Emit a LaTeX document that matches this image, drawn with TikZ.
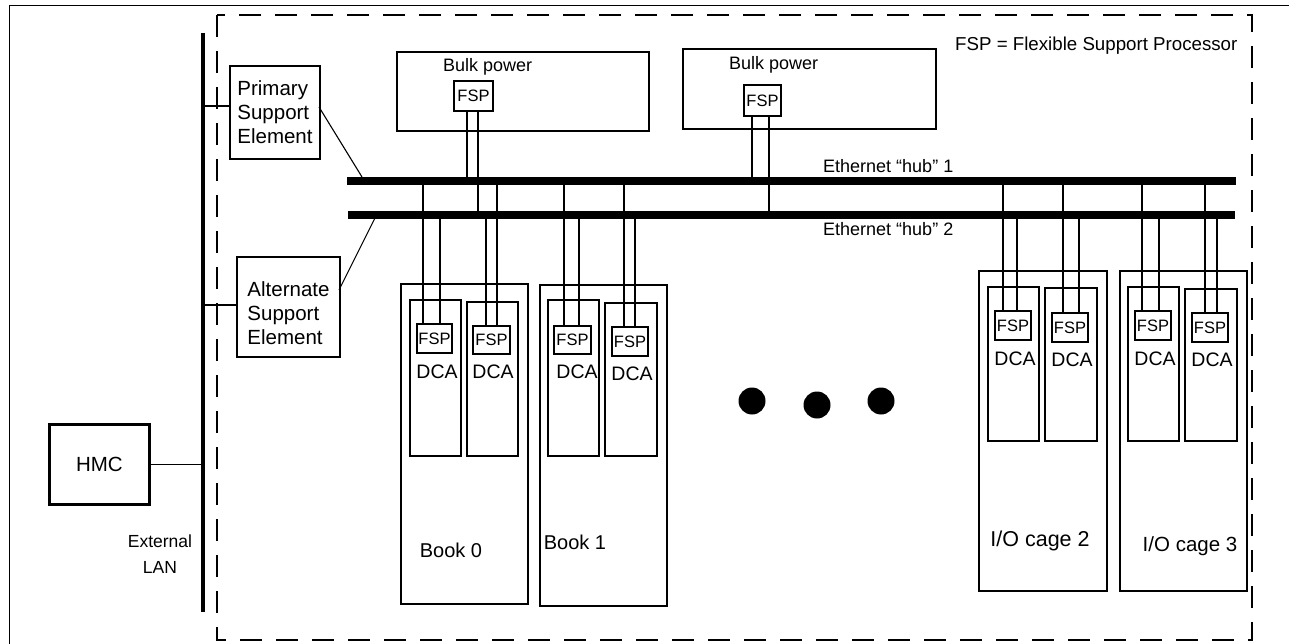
\documentclass[tikz,border=0pt]{standalone}
\usepackage{fontspec}
\setmainfont{Liberation Sans}
\newcommand\wireto[4]{\path ([xshift=#3pt]#1.#2) coordinate (wt); \draw[wire] (wt) -- (wt |- #4);}
\begin{document}
\begin{tikzpicture}[x=1pt,y=-1pt,
  box/.style={draw, line width=2pt, inner sep=0pt, anchor=north west},
  wire/.style={line width=1.8pt},
  hubbar/.style={line width=7.5pt},
  thinline/.style={line width=1.1pt},
  lbl/.style={inner sep=0pt, font=\fontsize{18}{22}\selectfont},
  dcalbl/.style={inner sep=0pt, font=\fontsize{19.5}{22}\selectfont},
  cagelbl/.style={inner sep=0pt, font=\fontsize{20}{22}\selectfont},
  big/.style={inner sep=0pt, align=left, font=\fontsize{20.5}{24}\selectfont},
  fsp/.style={box, minimum width=36pt, minimum height=29pt, font=\fontsize{16.5}{18}\selectfont},
  dotfill/.style={fill=black}]
\useasboundingbox (0,0) rectangle (1289,644);
% outer frame
\draw[line width=1pt] (9,644) -- (9,6) -- (1289,6);
% dashed enclosure
\draw[line width=2pt, dash pattern=on 22pt off 14pt] (217,15) rectangle (1252,640);
% external LAN
\coordinate (lanT) at (203,33);
\coordinate (lanB) at (203,612);
\draw[line width=3.5pt] (lanT) -- (lanB);
\node[lbl, align=center, font=\fontsize{17.5}{26}\selectfont] (lanlbl) at (160,554) {External\\LAN};
% HMC
\node[box, line width=2.7pt, minimum width=100pt, minimum height=80pt, font=\fontsize{20.5}{24}\selectfont] (hmc) at (48,423) {HMC};
\draw[thinline] (hmc.east) -- (hmc.east -| lanT);
% support elements
\node[box, minimum width=90pt, minimum height=93pt] (pse) at (229,65) {};
\node[big] (psetxt) at (pse.center) {Primary\\Support\\Element};
\node[box, minimum width=103pt, minimum height=100pt] (ase) at (236,256) {};
\node[big] (asetxt) at ([yshift=-6pt]ase.center) {Alternate\\Support\\Element};
\coordinate (pseL) at (229,106);
\coordinate (aseL) at (236,305);
\draw[thinline] (pseL -| lanT) -- (pseL);
\draw[thinline] (aseL -| lanT) -- (aseL);
% hubs
\coordinate (h1a) at (347,181);
\coordinate (h1b) at (1236,181);
\coordinate (h2a) at (348,215);
\coordinate (h2b) at (1235,215);
\draw[thinline] (319,107) -- (362,177);
\draw[thinline] (339,290) -- (375,218);
\node[lbl, anchor=west] (hub1lbl) at (823,166) {Ethernet “hub” 1};
\node[lbl, anchor=west] (hub2lbl) at (823,229) {Ethernet “hub” 2};
\node[lbl, anchor=west, font=\fontsize{18.7}{22}\selectfont] (legend) at (955,46) {FSP = Flexible Support Processor};
% bulk power
\node[box, minimum width=252pt, minimum height=79pt] (bp1) at (396,51) {};
\node[box, minimum width=253pt, minimum height=80pt] (bp2) at (682,48) {};
\node[lbl, anchor=west] (bp1lbl) at (443,67) {Bulk power};
\node[lbl, anchor=west] (bp2lbl) at (729,65) {Bulk power};
\node[fsp, minimum width=39pt, minimum height=30pt] (bf1) at (453,80) {FSP};
\node[fsp, minimum width=37pt, minimum height=31pt] (bf2) at (743,84) {FSP};
\wireto{bf1}{south west}{14}{h1a}
\wireto{bf1}{south west}{25}{h2a}
\wireto{bf2}{south west}{9}{h1a}
\wireto{bf2}{south west}{26}{h2a}
% books
\node[box, minimum width=127pt, minimum height=320pt] (book0) at (400,283) {};
\node[box, minimum width=51pt, minimum height=156pt] (d00) at (409,299) {};
\node[box, minimum width=51pt, minimum height=154pt] (d01) at (466,301) {};
\node[fsp, minimum width=35pt] (f00) at (416,323) {FSP};
\node[fsp, minimum width=37pt, minimum height=28pt] (f01) at (472,325) {FSP};
\node[dcalbl] (c00) at (437,372) {DCA};
\node[dcalbl] (c01) at (493,372) {DCA};
\node[cagelbl] (b0lbl) at (451,550) {Book 0};
\node[box, minimum width=127pt, minimum height=321pt] (book1) at (539,284) {};
\node[box, minimum width=51pt, minimum height=156pt] (d10) at (547,299) {};
\node[box, minimum width=52pt, minimum height=153pt] (d11) at (604,302) {};
\node[fsp, minimum width=37pt, minimum height=28pt] (f10) at (553,325) {FSP};
\node[fsp, minimum width=36pt] (f11) at (611,326) {FSP};
\node[dcalbl] (c10) at (577,372) {DCA};
\node[dcalbl] (c11) at (632,374) {DCA};
\node[cagelbl] (b1lbl) at (575,542) {Book 1};
% I/O cages
\node[box, minimum width=128pt, minimum height=320pt] (cage2) at (978,270) {};
\node[box, minimum width=51pt, minimum height=154pt] (d20) at (987,286) {};
\node[box, minimum width=52pt, minimum height=153pt] (d21) at (1044,287) {};
\node[fsp] (f20) at (994,310) {FSP};
\node[fsp] (f21) at (1051,312) {FSP};
\node[dcalbl] (c20) at (1015,359) {DCA};
\node[dcalbl] (c21) at (1072,360) {DCA};
\node[cagelbl, font=\fontsize{21.5}{22}\selectfont] (c2lbl) at (1040,541) {I/O cage 2};
\node[box, minimum width=127pt, minimum height=320pt] (cage3) at (1119,270) {};
\node[box, minimum width=51pt, minimum height=154pt] (d30) at (1127,286) {};
\node[box, minimum width=52pt, minimum height=152pt] (d31) at (1184,288) {};
\node[fsp] (f30) at (1134,310) {FSP};
\node[fsp] (f31) at (1191,312) {FSP};
\node[dcalbl] (c30) at (1155,359) {DCA};
\node[dcalbl] (c31) at (1212,360) {DCA};
\node[cagelbl, font=\fontsize{20.5}{22}\selectfont] (c3lbl) at (1190,546) {I/O cage 3};
% wires from FSPs up to hubs
\wireto{f00}{north west}{7}{h1a}
\wireto{f00}{north west}{24}{h2a}
\wireto{f01}{north west}{14}{h2a}
\wireto{f01}{north west}{25}{h1a}
\wireto{f10}{north west}{11}{h1a}
\wireto{f10}{north west}{26}{h2a}
\wireto{f11}{north west}{13}{h1a}
\wireto{f11}{north west}{24}{h2a}
\wireto{f20}{north west}{9}{h1a}
\wireto{f20}{north west}{23}{h2a}
\wireto{f21}{north west}{12}{h1a}
\wireto{f21}{north west}{28}{h2a}
\wireto{f30}{north west}{8}{h1a}
\wireto{f30}{north west}{25}{h2a}
\wireto{f31}{north west}{14}{h1a}
\wireto{f31}{north west}{26}{h2a}
% hub bars on top
\draw[hubbar] (h1a) -- (h1b);
\draw[hubbar] (h2a) -- (h2b);
% ellipsis dots
\fill[dotfill] (752,401) circle[radius=13.5pt];
\fill[dotfill] (817,405) circle[radius=13.5pt];
\fill[dotfill] (881,401) circle[radius=13.5pt];
\end{tikzpicture}
\end{document}
